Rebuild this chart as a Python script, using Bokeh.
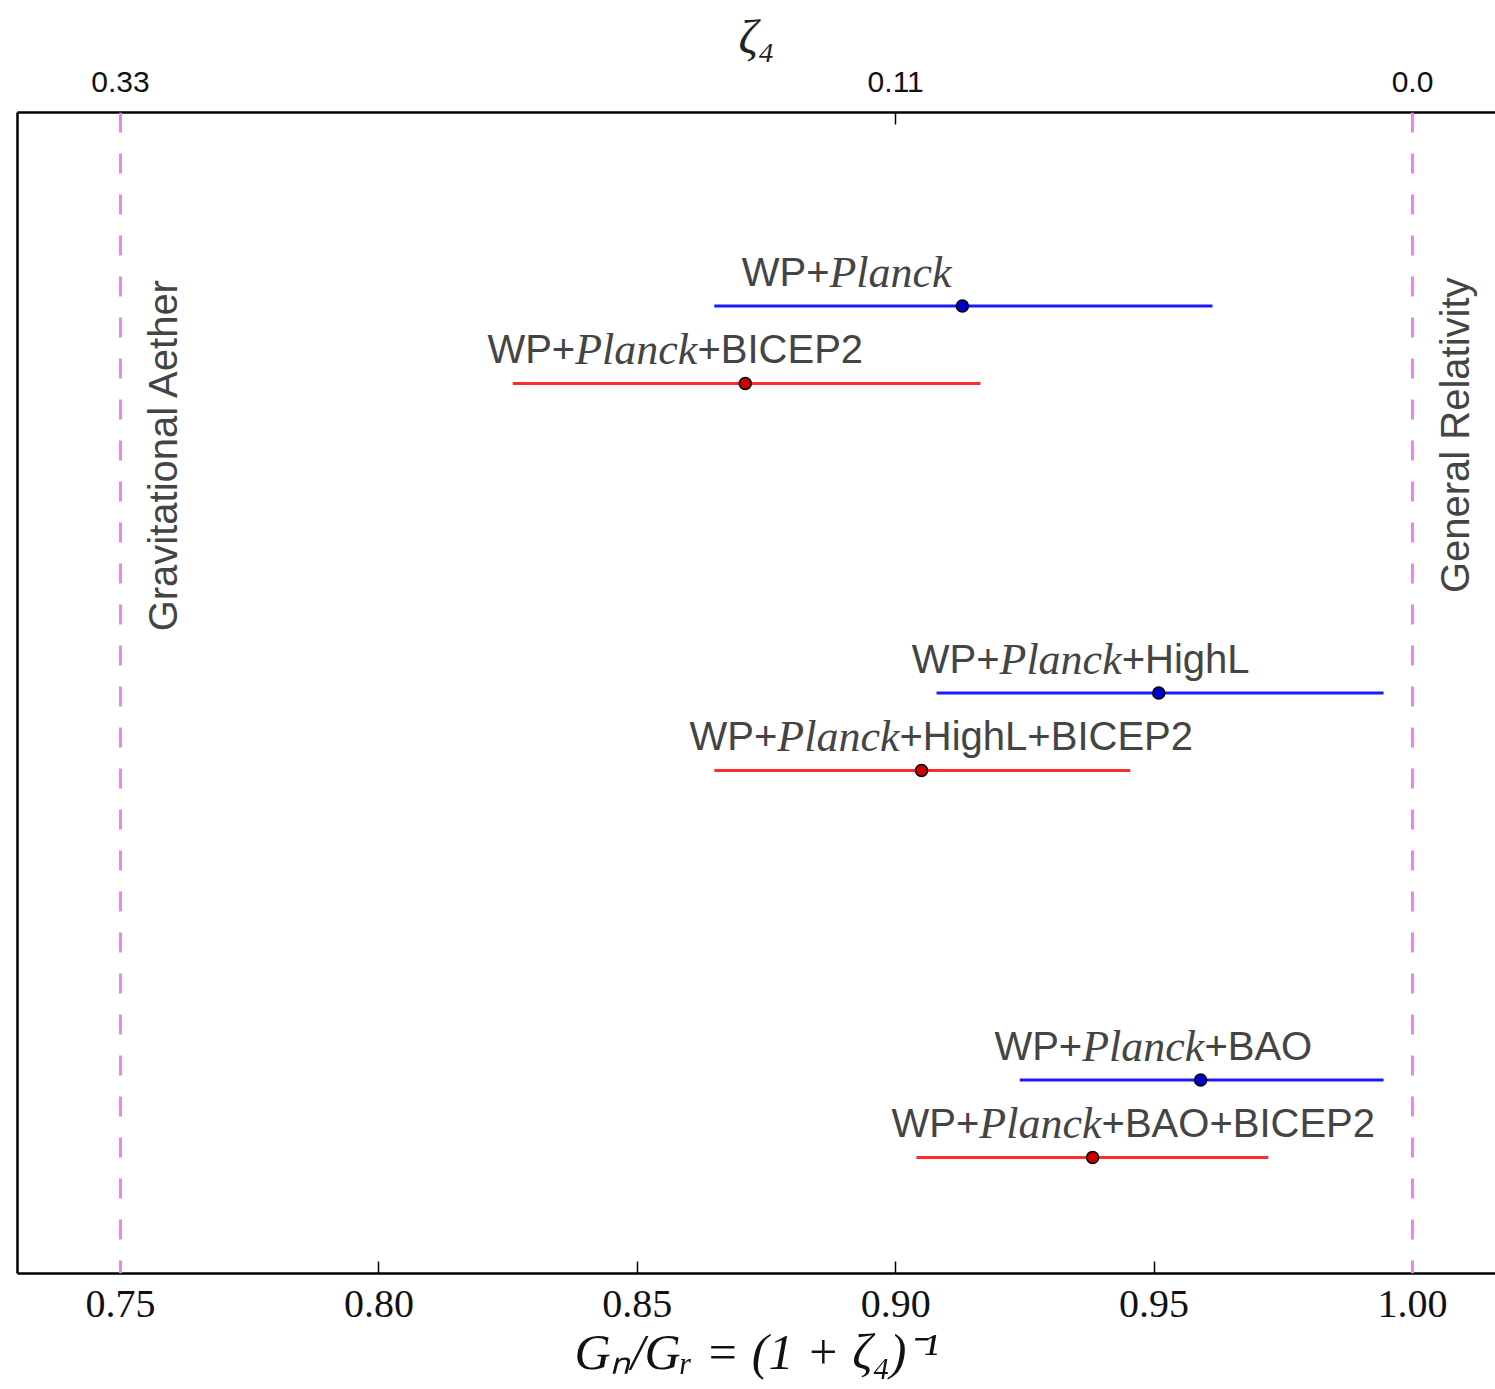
import math
from bokeh.plotting import figure
from bokeh.models import Range1d, LinearAxis, FixedTicker, NumeralTickFormatter, ColumnDataSource, Span
from bokeh.core.properties import value
from bokeh.embed import file_html
from bokeh.resources import INLINE

# ---- data ----
row_y = [12.5, 11.5, 7.5, 6.5, 2.5, 1.5]
centers = [0.9129, 0.8709, 0.9509, 0.9050, 0.9590, 0.9381]
lows = [0.8649, 0.8259, 0.9079, 0.8649, 0.9240, 0.9040]
highs = [0.9613, 0.9164, 0.9944, 0.9454, 0.9944, 0.9721]
colors = ["#1a1aff", "#ff2a2a", "#1a1aff", "#ff2a2a", "#1a1aff", "#ff2a2a"]
dot_colors = ["#0000c8", "#c80000", "#0000c8", "#c80000", "#0000c8", "#c80000"]
label_prefix = ["WP+"] * 6
label_italic = ["Planck"] * 6
label_suffix = ["", "+BICEP2", "+HighL", "+HighL+BICEP2", "+BAO", "+BAO+BICEP2"]
label_x = [0.8702, 0.8210, 0.9031, 0.8601, 0.9191, 0.8992]

bottom_ticks = [0.75, 0.80, 0.85, 0.90, 0.95, 1.00]
top_ticks = [0.75, 0.90, 1.00]
top_labels = ["0.33", "0.11", "0.0"]
limits = [0.75, 1.00]
side_text = ["Gravitational Aether", "General Relativity"]
side_x = [0.7583, 1.0083]
side_y = [10.58, 10.83]

SANS = "Liberation Sans"
SERIF = "Liberation Serif"
S = 40
I = 44
w_prefix = 2.195 * S
w_italic = 2.777 * I

p = figure(width=1495, height=1389, output_backend="svg", toolbar_location=None,
           x_range=Range1d(0.73007, 1.01606), y_range=Range1d(0, 15),
           min_border_left=17, min_border_right=0, min_border_top=112, min_border_bottom=116)
p.outline_line_color = None
p.grid.visible = False
p.background_fill_color = "white"

# bottom axis
xa = p.xaxis[0]
xa.ticker = FixedTicker(ticks=bottom_ticks)
xa.formatter = NumeralTickFormatter(format="0.00")
xa.major_tick_in = 12
xa.major_tick_out = 0
xa.minor_tick_line_color = None
xa.axis_line_width = 2.5
xa.major_tick_line_width = 1.5
xa.major_label_text_font = SERIF
xa.major_label_text_font_size = "40px"
xa.major_label_text_color = "#111111"
xa.major_label_standoff = 17
xa.axis_label = "G\u2099/G\u1d63 = (1 + \u03b6\u2084)\u207b\u00b9"
xa.axis_label_text_font = SERIF
xa.axis_label_text_font_style = "italic"
xa.axis_label_text_font_size = "50px"
xa.axis_label_text_color = "#111111"
xa.axis_label_standoff = 4

# left spine only
ya = p.yaxis[0]
ya.ticker = FixedTicker(ticks=[])
ya.major_tick_in = 0
ya.major_tick_out = 0
ya.minor_tick_line_color = None
ya.major_label_text_font_size = "0px"
ya.major_label_standoff = 0
ya.axis_line_width = 2.5

# top axis
ta = LinearAxis(ticker=FixedTicker(ticks=top_ticks),
                major_label_overrides={t: l for t, l in zip(top_ticks, top_labels)})
ta.major_tick_in = 12
ta.major_tick_out = 0
ta.minor_tick_line_color = None
ta.axis_line_width = 2.5
ta.major_tick_line_width = 1.5
ta.major_label_text_font = SANS
ta.major_label_text_font_size = "30px"
ta.major_label_text_color = "#111111"
ta.major_label_standoff = 21
ta.axis_label = "\u03b6\u2084"
ta.axis_label_text_font = SERIF
ta.axis_label_text_font_style = "italic"
ta.axis_label_text_font_size = "48px"
ta.axis_label_text_color = "#222222"
ta.axis_label_standoff = 6
p.add_layout(ta, "above")

# limit lines
for lx in limits:
    p.add_layout(Span(location=lx, dimension="height", line_color="#ee82ee",
                      line_width=3, line_dash="20 21"))

src = ColumnDataSource(dict(y=row_y, c=centers, lo=lows, hi=highs, col=colors, dcol=dot_colors,
                            lx=label_x, pre=label_prefix, it=label_italic, suf=label_suffix))

p.segment(x0="lo", y0="y", x1="hi", y1="y", line_color="col", line_width=3, source=src)
p.scatter(x="c", y="y", size=12, fill_color="dcol", line_color="black", line_width=1.5, source=src)

OFF_Y = -34
p.text(x="lx", y="y", text="pre", source=src, text_font=value(SANS), text_font_size="40px",
       text_color="#444444", text_baseline="alphabetic", y_offset=OFF_Y)
p.text(x="lx", y="y", text="it", source=src, text_font=value(SERIF), text_font_style="italic",
       text_font_size="44px", text_color="#444444", text_baseline="alphabetic",
       x_offset=w_prefix, y_offset=OFF_Y)
p.text(x="lx", y="y", text="suf", source=src, text_font=value(SANS), text_font_size="40px",
       text_color="#444444", text_baseline="alphabetic", x_offset=w_prefix + w_italic, y_offset=OFF_Y)

side = ColumnDataSource(dict(x=side_x, y=side_y, t=side_text))
p.text(x="x", y="y", text="t", source=side, angle=math.pi / 2, text_font=value(SANS),
       text_font_size="40px", text_color="#444444", text_align="center", text_baseline="middle")

open("out.html", "w").write(file_html(p, INLINE))
